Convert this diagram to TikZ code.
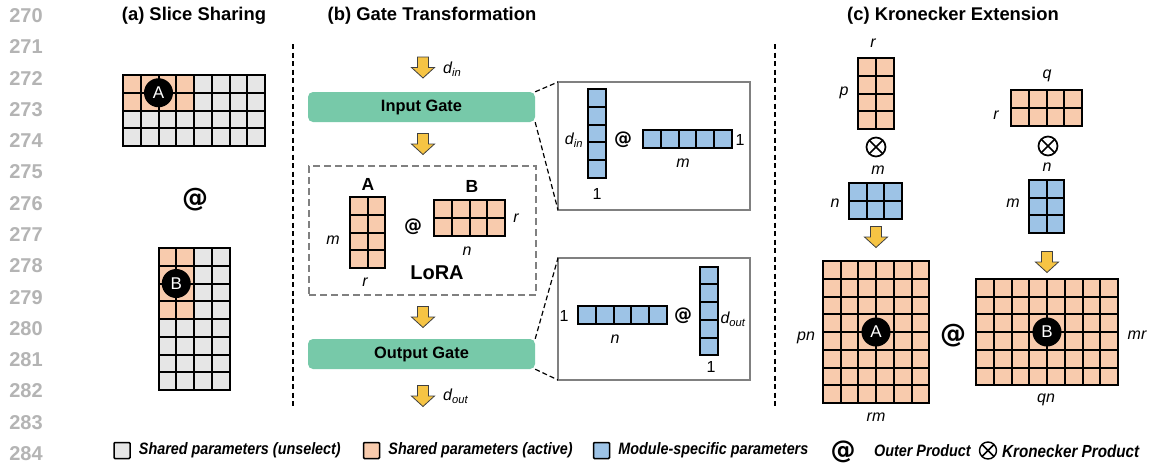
\documentclass[tikz,border=0pt]{standalone}
\usepackage{fontspec}
\setmainfont{Liberation Sans}
\newfontfamily\legendfont[FakeStretch=0.87]{Liberation Sans}
\newfontfamily\atfont{DejaVu Sans}
\usetikzlibrary{
  positioning,
  shapes.misc
}

\definecolor{cellgray}{HTML}{E6E6E6}
\definecolor{cellorange}{HTML}{F8CBAD}
\definecolor{cellblue}{HTML}{9DC3E6}
\definecolor{gategreen}{HTML}{77C9A9}
\definecolor{arrowyellow}{HTML}{F6C444}
\definecolor{linegray}{HTML}{B4B4B4}
\definecolor{boxgray}{HTML}{808080}

\newcommand{\cell}{17.75}
% #1 name, #2 centre, #3 cols, #4 rows, #5 colour, #6/#7 active cols/rows
\newcommand{\paramgrid}[7]{%
  \node[gridbox, fill=#5, minimum width=#3*\cell, minimum height=#4*\cell] (#1) at #2 {};
  \ifnum#6>0
    \fill[cellorange, shift={(#1.north west)}] (0,0) rectangle (#6*\cell, #7*\cell);
  \fi
  \foreach \i in {0,...,#3}
    \draw[gridline, shift={(#1.north west)}] (\i*\cell, 0) -- (\i*\cell, #4*\cell);
  \foreach \j in {0,...,#4}
    \draw[gridline, shift={(#1.north west)}] (0, \j*\cell) -- (#3*\cell, \j*\cell);
}

\tikzset{
  gridbox/.style={rectangle, inner sep=0, outer sep=0},
  gridline/.style={line width=2pt, line cap=rect},
  circletag/.style={circle, fill=black, text=white, minimum size=29pt, inner sep=0,
    font=\fontsize{17}{17}\selectfont},
  paneltitle/.style={font=\bfseries\fontsize{18.4}{18.4}\selectfont},
  linenum/.style={text=linegray, font=\bfseries\fontsize{20}{20}\selectfont},
  lbl/.style={inner sep=0, font=\itshape\fontsize{16}{16}\selectfont},
  plain/.style={inner sep=0, font=\fontsize{16}{16}\selectfont},
  matname/.style={font=\bfseries\fontsize{17.5}{17.5}\selectfont},
  atsign/.style={inner sep=0, font=\atfont\bfseries\fontsize{26}{26}\selectfont},
  atsmall/.style={inner sep=0, font=\atfont\bfseries\fontsize{18}{18}\selectfont},
  gate/.style={rectangle, rounded corners=5pt, fill=gategreen, minimum width=227pt,
    minimum height=30pt, font=\bfseries\fontsize{16.4}{16.4}\selectfont},
  lorabox/.style={draw=boxgray, line width=1.5pt, dash pattern=on 7pt off 4pt,
    minimum width=227pt, minimum height=129pt, inner sep=0},
  zoombox/.style={draw=boxgray, line width=1.5pt, minimum width=192pt, inner sep=0, outer sep=0},
  zoomline/.style={line width=1.2pt, dash pattern=on 5pt off 3pt},
  divider/.style={line width=1.2pt, dash pattern=on 5pt off 3.5pt},
  kron/.style={circle, draw, line width=1.7pt, minimum size=19pt, inner sep=0,
    path picture={\draw[line width=1.7pt]
      (path picture bounding box.north west) -- (path picture bounding box.south east)
      (path picture bounding box.north east) -- (path picture bounding box.south west);}},
  legsq/.style={draw, line width=1.5pt, minimum size=16pt, inner sep=0, rounded corners=1pt},
  legtxt/.style={inner sep=0, font=\legendfont\bfseries\itshape\fontsize{16.5}{16.5}\selectfont},
  flowarrow/.pic={
    \filldraw[fill=arrowyellow, draw=black!75, line width=0.8pt]
      (-5.5,-10.5) -- (5.5,-10.5) -- (5.5,0) -- (11.5,0) -- (0,10.5)
      -- (-11.5,0) -- (-5.5,0) -- cycle;
  }
}

\begin{document}
\begin{tikzpicture}[x=1pt, y=-1pt]
  \useasboundingbox[fill=white] (0,0) rectangle (1152,469);

  % line numbers
  \foreach \k [evaluate=\k as \num using int(270+\k)] in {0,...,14}
    \node[linenum] (ln\k) at (26, 15.5+31.3*\k) {\num};

  \node[paneltitle] (titleA) at (194,16) {(a) Slice Sharing};
  \node[paneltitle] (titleB) at (432,16) {(b) Gate Transformation};
  \node[paneltitle] (titleC) at (953,16) {(c) Kronecker Extension};
  \draw[divider] (293,44) -- (293,408);
  \draw[divider] (775,44) -- (775,408);

  % (a) slice sharing
  \paramgrid{sliceA}{(194,110.5)}{8}{4}{cellgray}{4}{2}
  \node[circletag] (tagA) at ([shift={(2*\cell,\cell)}]sliceA.north west) {A};
  \node[atsign] (atA) at (195,200) {@};
  \paramgrid{sliceB}{(194,319)}{4}{8}{cellgray}{2}{4}
  \node[circletag] (tagB) at ([shift={(\cell,2*\cell)}]sliceB.north west) {B};

  % (b) gate transformation
  \pic (arrIn) at (423,67.5) {flowarrow};
  \node[lbl, anchor=west] (dIn) at (443,69) {d\textsubscript{in}};
  \node[gate] (inGate) at (421.5,107) {Input Gate};
  \pic (arrLoraIn) at (423,144) {flowarrow};

  \node[lorabox] (lora) at (422.5,230.5) {};
  \node[matname] (nameA) at (368,184) {A};
  \paramgrid{loraA}{(367.5,232.5)}{2}{4}{cellorange}{0}{0}
  \node[lbl] (loraAm) at (333,240) {m};
  \node[lbl] (loraAr) at (365,282) {r};
  \node[atsmall] (atLora) at (413,227) {@};
  \node[matname] (nameB) at (472,186) {B};
  \paramgrid{loraB}{(469.5,218)}{4}{2}{cellorange}{0}{0}
  \node[lbl] (loraBr) at (516,218) {r};
  \node[lbl] (loraBn) at (467,251) {n};
  \node[font=\bfseries\fontsize{20}{20}\selectfont] (loraName) at (437,273) {LoRA};

  \pic (arrLoraOut) at (423,317) {flowarrow};
  \node[gate] (outGate) at (421.5,354) {Output Gate};
  \pic (arrOut) at (423,396) {flowarrow};
  \node[lbl, anchor=west] (dOut) at (443,396) {d\textsubscript{out}};

  % zoomed gates
  \node[zoombox, minimum height=128pt] (inZoom) at (654,146) {};
  \draw[zoomline] (inGate.north east) -- (inZoom.north west);
  \draw[zoomline] (inGate.south east) -- (inZoom.south west);
  \paramgrid{inVecL}{(597,133.5)}{1}{5}{cellblue}{0}{0}
  \node[lbl] (inDin) at (574,140) {d\textsubscript{in}};
  \node[plain] (inOne) at (597,194) {1};
  \node[atsmall] (atIn) at (623,140) {@};
  \paramgrid{inVecR}{(687.5,139)}{5}{1}{cellblue}{0}{0}
  \node[plain] (inOneR) at (740,140) {1};
  \node[lbl] (inM) at (683,163) {m};

  \node[zoombox, minimum height=122pt] (outZoom) at (654,319) {};
  \draw[zoomline] (outGate.north east) -- (outZoom.north west);
  \draw[zoomline] (outGate.south east) -- (outZoom.south west);
  \node[plain] (outOne) at (564,316) {1};
  \paramgrid{outVecL}{(622.5,315)}{5}{1}{cellblue}{0}{0}
  \node[lbl] (outN) at (615,339) {n};
  \node[atsmall] (atOut) at (683,316) {@};
  \paramgrid{outVecR}{(709,311)}{1}{5}{cellblue}{0}{0}
  \node[lbl] (outDout) at (733,319) {d\textsubscript{out}};
  \node[plain] (outOneB) at (711,367) {1};

  % (c) kronecker extension
  \node[lbl] (kpr) at (873,43) {r};
  \paramgrid{kronP}{(876,93.5)}{2}{4}{cellorange}{0}{0}
  \node[lbl] (kpp) at (844,93) {p};
  \node[kron] (kronL) at (876,147) {};
  \node[lbl] (knm) at (878,170) {m};
  \paramgrid{kronN}{(875.5,200.75)}{3}{2}{cellblue}{0}{0}
  \node[lbl] (knn) at (835,203) {n};
  \pic (arrKronL) at (876,237) {flowarrow};
  \paramgrid{bigA}{(876,332)}{6}{8}{cellorange}{0}{0}
  \node[circletag] (tagBigA) at ([shift={(3*\cell,4*\cell)}]bigA.north west) {A};
  \node[lbl] (bigApn) at (806,338) {pn};
  \node[lbl] (bigArm) at (876,417) {rm};
  \node[atsign] (atKron) at (953,336) {@};

  \node[lbl] (kqq) at (1047,76) {q};
  \paramgrid{kronQ}{(1046.5,107.75)}{4}{2}{cellorange}{0}{0}
  \node[lbl] (kqr) at (996,115) {r};
  \node[kron] (kronR) at (1048,146) {};
  \node[lbl] (kmn) at (1047,167) {n};
  \paramgrid{kronM}{(1046.5,206.6)}{2}{3}{cellblue}{0}{0}
  \node[lbl] (kmm) at (1013,203) {m};
  \pic (arrKronR) at (1047,262) {flowarrow};
  \paramgrid{bigB}{(1047,332)}{8}{6}{cellorange}{0}{0}
  \node[circletag] (tagBigB) at ([shift={(4*\cell,3*\cell)}]bigB.north west) {B};
  \node[lbl] (bigBmr) at (1137,335) {mr};
  \node[lbl] (bigBqn) at (1046,400) {qn};

  % legend
  \node[legsq, fill=cellgray] (legGray) at (122,450.5) {};
  \node[legtxt, right=8pt of legGray] (legGrayTxt) {Shared parameters (unselect)};
  \node[legsq, fill=cellorange] (legOrange) at (371.5,450.5) {};
  \node[legtxt, right=8pt of legOrange] (legOrangeTxt) {Shared parameters (active)};
  \node[legsq, fill=cellblue] (legBlue) at (601.5,450.5) {};
  \node[legtxt, right=8pt of legBlue] (legBlueTxt) {Module-specific parameters};
  \node[inner sep=0, font=\atfont\bfseries\fontsize{25}{25}\selectfont] (legAt) at (843,452) {@};
  \node[legtxt, anchor=west] (legAtTxt) at (874,451) {Outer Product};
  \node[kron, minimum size=17pt, line width=1.4pt] (legKron) at (988,450.5) {};
  \node[legtxt, anchor=west, font=\legendfont\bfseries\itshape\fontsize{17.5}{17.5}\selectfont]
    (legKronTxt) at (1002,451) {Kronecker Product};
\end{tikzpicture}
\end{document}
